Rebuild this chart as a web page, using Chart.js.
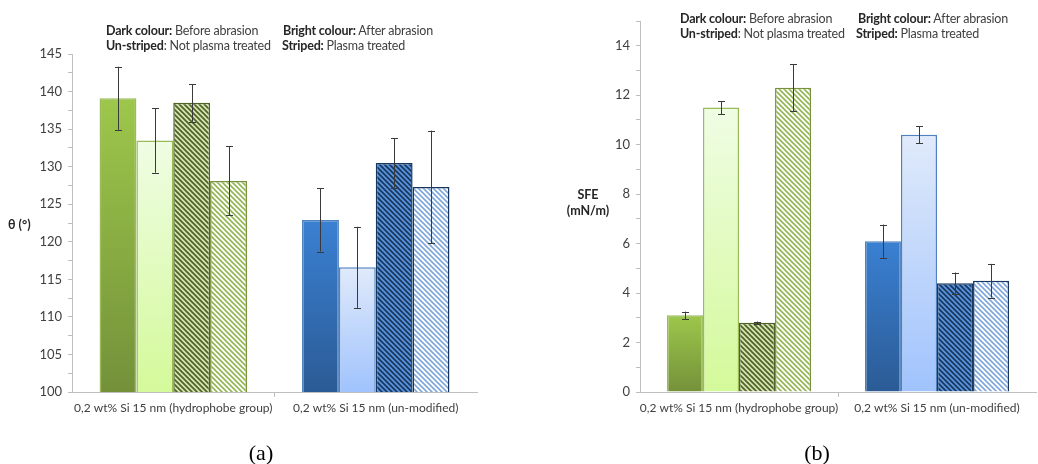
<!DOCTYPE html>
<html>
<head>
<meta charset="utf-8">
<script src="https://cdn.jsdelivr.net/npm/chart.js@4.4.1/dist/chart.umd.min.js"></script>
<style>
  html, body { margin: 0; padding: 0; background: #fff; }
  body { width: 1038px; height: 464px; position: relative; overflow: hidden; font-family: Lato, "Open Sans", sans-serif; color: #404040; }
  .box { position: absolute; top: 0; height: 464px; }
  .note { position: absolute; font-size: 12.5px; letter-spacing: -0.2px; line-height: 15px; white-space: nowrap; color: #404040; }
  .note b { color: #262626; }
  .ytitle { position: absolute; font-size: 12.5px; font-weight: bold; line-height: 16px; text-align: center; white-space: nowrap; color: #262626; }
  .cap { position: absolute; font-family: "Liberation Serif", "DejaVu Serif", serif; font-size: 22px; line-height: 22px; transform: translateX(-50%); color: #000; }
</style>
</head>
<body>
<div class="box" style="left:0;width:500px;"><canvas id="c1"></canvas></div>
<div class="box" style="left:520px;width:518px;"><canvas id="c2"></canvas></div>

<div class="note" style="left:106px;top:23px;"><b>Dark colour:</b> Before abrasion</div>
<div class="note" style="left:283px;top:23px;"><b>Bright colour:</b> After abrasion</div>
<div class="note" style="left:106px;top:38px;"><b>Un-striped</b>: Not plasma treated</div>
<div class="note" style="left:282px;top:38px;"><b>Striped:</b> Plasma treated</div>

<div class="note" style="left:680px;top:11px;"><b>Dark colour:</b> Before abrasion</div>
<div class="note" style="left:858px;top:11px;"><b>Bright colour:</b> After abrasion</div>
<div class="note" style="left:680px;top:26px;"><b>Un-striped</b>: Not plasma treated</div>
<div class="note" style="left:856px;top:26px;"><b>Striped:</b> Plasma treated</div>

<div class="ytitle" style="left:8px;top:217px;">θ (°)</div>
<div class="ytitle" style="left:566px;top:187px;width:44px;">SFE<br>(mN/m)</div>

<div class="cap" style="left:261px;top:442px;">(a)</div>
<div class="cap" style="left:817px;top:442px;">(b)</div>

<script>
// ---------- data ----------
const categories = ['0,2 wt% Si 15 nm (hydrophobe group)', '0,2 wt% Si 15 nm (un-modified)'];

const thetaTicks = [100, 105, 110, 115, 120, 125, 130, 135, 140, 145];
const thetaBeforeUnstriped = [139.1, 122.9];
const thetaBeforeUnstripedErr = [4.2, 4.2];
const thetaAfterUnstriped = [133.5, 116.6];
const thetaAfterUnstripedErr = [4.3, 5.4];
const thetaBeforeStriped = [138.5, 130.5];
const thetaBeforeStripedErr = [2.5, 3.3];
const thetaAfterStriped = [128.1, 127.3];
const thetaAfterStripedErr = [4.6, 7.5];

const sfeTicks = [0, 2, 4, 6, 8, 10, 12, 14];
const sfeBeforeUnstriped = [3.1, 6.1];
const sfeBeforeUnstripedErr = [0.15, 0.67];
const sfeAfterUnstriped = [11.5, 10.4];
const sfeAfterUnstripedErr = [0.26, 0.34];
const sfeBeforeStriped = [2.8, 4.4];
const sfeBeforeStripedErr = [0.05, 0.43];
const sfeAfterStriped = [12.3, 4.5];
const sfeAfterStripedErr = [0.95, 0.68];

// ---------- styles ----------
function stripes(bg, fg, w) {
  const s = 5;
  const c = document.createElement('canvas');
  c.width = s; c.height = s;
  const x = c.getContext('2d');
  x.fillStyle = bg; x.fillRect(0, 0, s, s);
  x.strokeStyle = fg; x.lineWidth = w; x.lineCap = 'square';
  for (const k of [-s, 0, s]) {
    x.beginPath(); x.moveTo(-1, -1 + k); x.lineTo(s + 1, s + 1 + k); x.stroke();
  }
  return x.createPattern(c, 'repeat');
}

function gradFill(top, bottom) {
  return function (ctx) {
    const chart = ctx.chart;
    const area = chart.chartArea;
    if (!area || ctx.parsed === undefined) return bottom;
    const yTop = chart.scales.y.getPixelForValue(ctx.parsed.y);
    const g = chart.ctx.createLinearGradient(0, yTop, 0, area.bottom);
    g.addColorStop(0, top);
    g.addColorStop(1, bottom);
    return g;
  };
}
const styles = {
  beforeUn: {
    bg: [gradFill('#9dc74b', '#74913a'), gradFill('#3a80d2', '#2b5b95')],
    border: ['#9bbb59', '#4f81bd']
  },
  afterUn: {
    bg: [gradFill('#effde4', '#d4f99a'), gradFill('#e0eafa', '#a0c3fd')],
    border: ['#9bbb59', '#4f81bd']
  },
  beforeSt: {
    bg: [stripes('#d5e4b0', '#4f6228', 1.7), stripes('#5a93dc', '#17375e', 1.7)],
    border: ['#4f6228', '#17375e']
  },
  afterSt: {
    bg: [stripes('#ffffff', '#92b553', 1.6), stripes('#ffffff', '#7ea6da', 1.6)],
    border: ['#76923c', '#17375e']
  }
};

function makeDataset(label, values, errs, st) {
  return {
    label: label,
    data: values,
    errors: errs,
    backgroundColor: function (ctx) {
      const b = st.bg[ctx.dataIndex];
      return typeof b === 'function' ? b(ctx) : b;
    },
    borderColor: st.border,
    borderWidth: 1.5,
    borderSkipped: 'bottom',
    barPercentage: 1.0,
    categoryPercentage: 0.728
  };
}

const errorBars = {
  id: 'errorBars',
  afterDatasetsDraw(chart) {
    const ctx = chart.ctx;
    const y = chart.scales.y;
    ctx.save();
    ctx.strokeStyle = '#3a3a3a';
    ctx.lineWidth = 1;
    chart.data.datasets.forEach((ds, di) => {
      const meta = chart.getDatasetMeta(di);
      meta.data.forEach((bar, i) => {
        const v = ds.data[i], e = ds.errors[i];
        const x = Math.round(bar.x) + 0.5;
        const yt = y.getPixelForValue(v + e);
        const yb = y.getPixelForValue(v - e);
        ctx.beginPath();
        ctx.moveTo(x, yt); ctx.lineTo(x, yb);
        ctx.moveTo(x - 3.5, Math.round(yt) + 0.5); ctx.lineTo(x + 3.5, Math.round(yt) + 0.5);
        ctx.moveTo(x - 3.5, Math.round(yb) + 0.5); ctx.lineTo(x + 3.5, Math.round(yb) + 0.5);
        ctx.stroke();
      });
    });
    ctx.restore();
  }
};

function makeChart(id, datasets, yMin, yMax, step, labelTicks, pad) {
  return new Chart(document.getElementById(id), {
    type: 'bar',
    data: { labels: categories, datasets: datasets },
    plugins: [errorBars],
    options: {
      responsive: true,
      maintainAspectRatio: false,
      animation: false,
      layout: { padding: pad },
      plugins: { legend: { display: false }, tooltip: { enabled: false }, title: { display: false } },
      scales: {
        x: {
          afterFit(s) { s.height = 30; },
          grid: {
            display: true, drawOnChartArea: false, drawTicks: true, tickLength: 5, offset: true,
            color: (c) => (c.index === 1 ? '#bfbfbf' : 'rgba(0,0,0,0)')
          },
          border: { display: true, color: '#bfbfbf', width: 1 },
          ticks: { color: '#404040', font: { family: 'Lato', size: 12 }, padding: 4, maxRotation: 0, minRotation: 0, autoSkip: false }
        },
        y: {
          min: yMin, max: yMax,
          afterFit(s) { s.width = 40; },
          grid: { display: true, drawOnChartArea: false, drawTicks: true, tickLength: 4, color: '#bfbfbf' },
          border: { display: true, color: '#bfbfbf', width: 1 },
          ticks: {
            stepSize: step,
            color: '#404040',
            font: { family: 'Lato', size: 13 },
            padding: 6,
            autoSkip: false,
            callback: (v) => (labelTicks.includes(v) ? String(v) : '')
          }
        }
      }
    }
  });
}

makeChart('c1', [
  makeDataset('Before abrasion, not plasma treated', thetaBeforeUnstriped, thetaBeforeUnstripedErr, styles.beforeUn),
  makeDataset('After abrasion, not plasma treated', thetaAfterUnstriped, thetaAfterUnstripedErr, styles.afterUn),
  makeDataset('Before abrasion, plasma treated', thetaBeforeStriped, thetaBeforeStripedErr, styles.beforeSt),
  makeDataset('After abrasion, plasma treated', thetaAfterStriped, thetaAfterStripedErr, styles.afterSt)
], 100, 145, 2.5, thetaTicks, { left: 32, right: 23, top: 54, bottom: 42 });

makeChart('c2', [
  makeDataset('Before abrasion, not plasma treated', sfeBeforeUnstriped, sfeBeforeUnstripedErr, styles.beforeUn),
  makeDataset('After abrasion, not plasma treated', sfeAfterUnstriped, sfeAfterUnstripedErr, styles.afterUn),
  makeDataset('Before abrasion, plasma treated', sfeBeforeStriped, sfeBeforeStripedErr, styles.beforeSt),
  makeDataset('After abrasion, plasma treated', sfeAfterStriped, sfeAfterStripedErr, styles.afterSt)
], 0, 15, 1, sfeTicks, { left: 80, right: 2, top: 21, bottom: 42 });
</script>
</body>
</html>
